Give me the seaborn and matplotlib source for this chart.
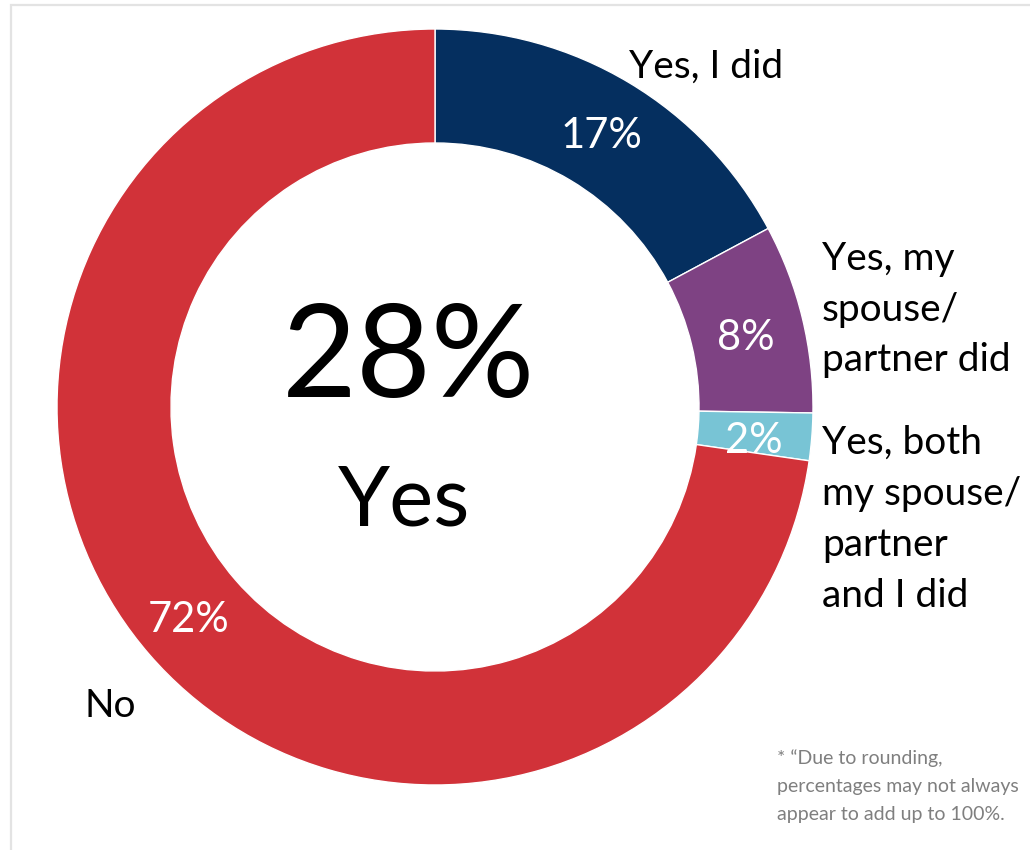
import matplotlib
matplotlib.use("Agg")
import matplotlib.pyplot as plt
from matplotlib.patches import Rectangle
import seaborn as sns

# Survey answers and their shares (percent)
categories = ["Yes, I did", "Yes, my spouse/ partner did",
              "Yes, both my spouse/ partner and I did", "No"]
shares = [17, 8, 2, 72]
share_labels = ["17%", "8%", "2%", "72%"]
total_yes = "28%"
palette = sns.color_palette(["#052f5f", "#7e4283", "#78c4d5", "#d13239"])

sns.set_theme(style="white")
plt.rcParams["font.family"] = ["Lato", "DejaVu Sans"]

W, H = 1030, 850
fig = plt.figure(figsize=(W / 100, H / 100), dpi=100)
ax = fig.add_axes([0, 0, 1, 1])


def Y(y):
    """Convert a top-down pixel row to the axes' bottom-up coordinate."""
    return H - y


cx, cy, R, ring = 435, 407, 378, 114
ax.pie(shares, colors=palette, startangle=90, counterclock=False,
       radius=R, center=(cx, Y(cy)),
       wedgeprops=dict(width=ring, edgecolor="white", linewidth=1.0))

ax.set_xlim(0, W)
ax.set_ylim(0, H)
ax.set_aspect("equal")
ax.axis("off")

# light frame around the panel
ax.add_patch(Rectangle((11, -20), W + 40, Y(5) + 20, fill=False,
                       edgecolor="#e3e3e3", linewidth=1.6, zorder=0))

label_pt = 28
pct_pt = 30
weight = "normal"

# percentage labels on the ring
pct_pos = [(601, 148), (746, 350), (754, 453), (189, 632)]
for txt, (x, y) in zip(share_labels, pct_pos):
    ax.text(x, Y(y), txt, color="white", fontsize=pct_pt, fontweight=weight,
            ha="center", va="baseline")

# category labels
ax.text(629, Y(78), "Yes, I did", fontsize=label_pt, fontweight=weight,
        color="black", ha="left", va="baseline")
for line, y in zip(["Yes, my", "spouse/", "partner did"], [270, 321, 371]):
    ax.text(822, Y(y), line, fontsize=label_pt, fontweight=weight,
            color="black", ha="left", va="baseline")
for line, y in zip(["Yes, both", "my spouse/", "partner", "and I did"],
                   [454, 505, 556, 607]):
    ax.text(822, Y(y), line, fontsize=label_pt, fontweight=weight,
            color="black", ha="left", va="baseline")
ax.text(84, Y(717), "No", fontsize=label_pt, fontweight=weight,
        color="black", ha="left", va="baseline")

# centre summary
ax.text(409, Y(397), total_yes, fontsize=93, fontweight="normal",
        color="black", ha="center", va="baseline")
ax.text(404, Y(525), "Yes", fontsize=60, fontweight=weight,
        color="black", ha="center", va="baseline")

# footnote
for line, y in zip(["* \u201cDue to rounding,", "percentages may not always",
                    "appear to add up to 100%."], [764, 792, 820]):
    ax.text(777, Y(y), line, fontsize=14, color="#7f7f7f",
            ha="left", va="baseline")

fig.savefig("out.png", dpi=100, facecolor="white")
